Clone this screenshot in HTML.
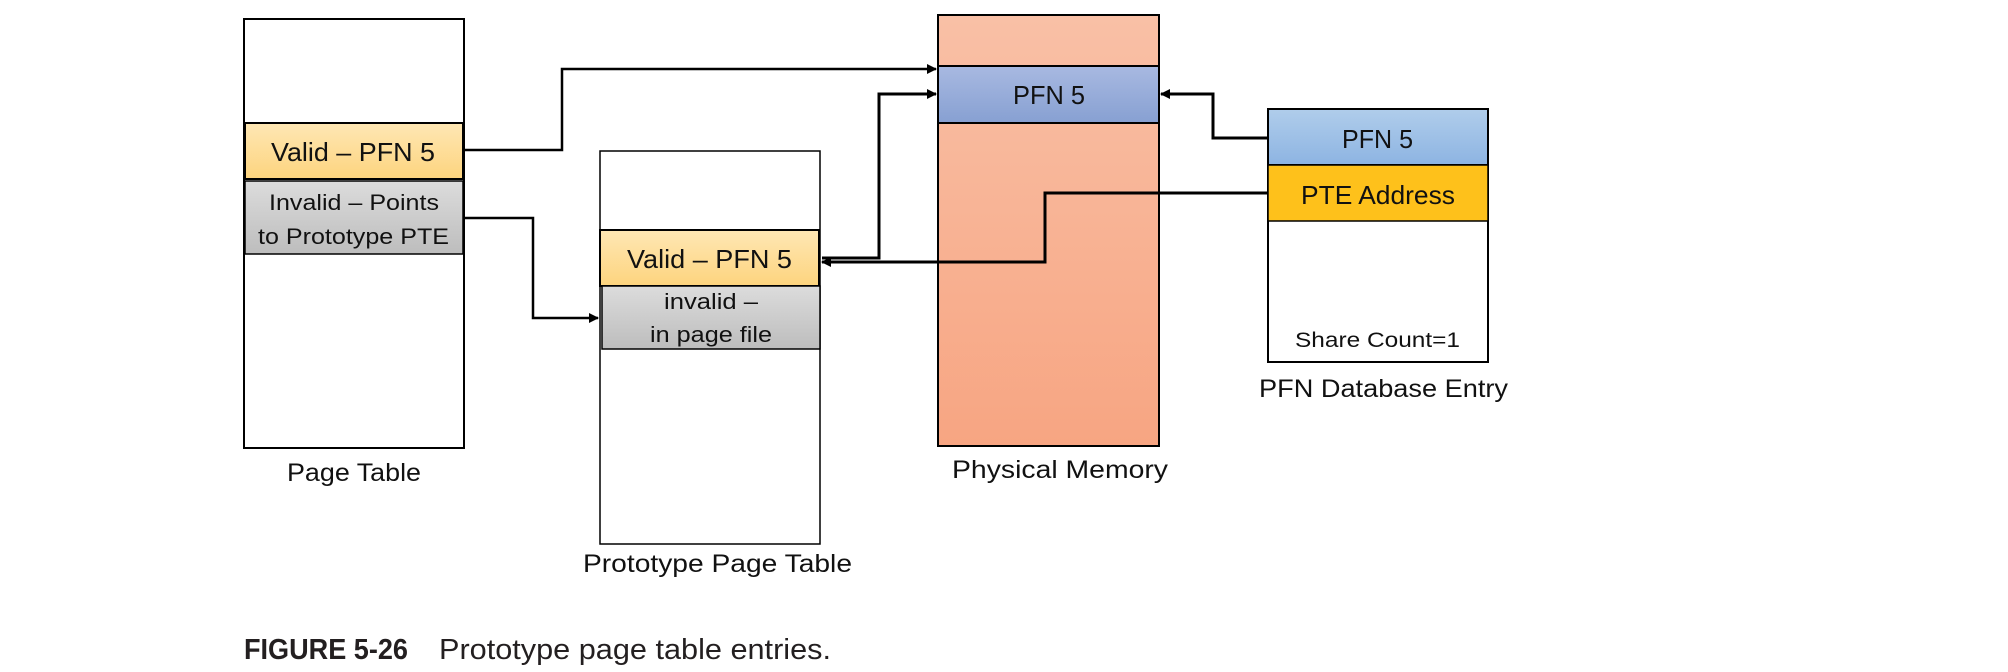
<!DOCTYPE html>
<html><head><meta charset="utf-8"><style>
html,body{margin:0;padding:0;background:#fff;}
svg{display:block;}
text{font-family:"Liberation Sans",sans-serif;fill:#111;}
</style></head><body>
<svg width="2008" height="672" viewBox="0 0 2008 672" xmlns="http://www.w3.org/2000/svg">
<defs>
<linearGradient id="yel" x1="0" y1="0" x2="0" y2="1"><stop offset="0" stop-color="#fee7b4"/><stop offset="1" stop-color="#fdd47e"/></linearGradient>
<linearGradient id="gry" x1="0" y1="0" x2="0" y2="1"><stop offset="0" stop-color="#dcdcdc"/><stop offset="1" stop-color="#bdbdbd"/></linearGradient>
<linearGradient id="sal" x1="0" y1="0" x2="0" y2="1"><stop offset="0" stop-color="#f9c0a6"/><stop offset="1" stop-color="#f7a582"/></linearGradient>
<linearGradient id="blu" x1="0" y1="0" x2="0" y2="1"><stop offset="0" stop-color="#a8b9e1"/><stop offset="1" stop-color="#87a0d2"/></linearGradient>
<linearGradient id="blu2" x1="0" y1="0" x2="0" y2="1"><stop offset="0" stop-color="#b0cdeb"/><stop offset="1" stop-color="#8db4e2"/></linearGradient>
<marker id="ar" markerWidth="10" markerHeight="10" refX="9" refY="5" orient="auto" markerUnits="userSpaceOnUse"><path d="M0,0 L10,5 L0,10 z" fill="#000"/></marker>
</defs>

<!-- Page Table -->
<rect x="244" y="19" width="220" height="429" fill="#fff" stroke="#000" stroke-width="2"/>
<rect x="245" y="123" width="218" height="56" fill="url(#yel)" stroke="#000" stroke-width="2"/>
<rect x="245" y="181" width="218" height="73" fill="url(#gry)" stroke="#000" stroke-width="1.5"/>
<text x="271" y="161" font-size="26" textLength="164" lengthAdjust="spacingAndGlyphs">Valid – PFN 5</text>
<text x="269" y="210" font-size="22" textLength="170" lengthAdjust="spacingAndGlyphs">Invalid – Points</text>
<text x="258" y="244" font-size="22" textLength="191" lengthAdjust="spacingAndGlyphs">to Prototype PTE</text>
<text x="287" y="481" font-size="25" textLength="134" lengthAdjust="spacingAndGlyphs">Page Table</text>

<!-- Prototype Page Table -->
<rect x="600" y="151" width="220" height="393" fill="#fff" stroke="#000" stroke-width="1.5"/>
<rect x="600" y="230" width="219" height="56" fill="url(#yel)" stroke="#000" stroke-width="2"/>
<rect x="602" y="286" width="218" height="63" fill="url(#gry)" stroke="#000" stroke-width="1.5"/>
<text x="627" y="268" font-size="26" textLength="165" lengthAdjust="spacingAndGlyphs">Valid – PFN 5</text>
<text x="664" y="309" font-size="22" textLength="94" lengthAdjust="spacingAndGlyphs">invalid –</text>
<text x="650" y="342" font-size="22" textLength="122" lengthAdjust="spacingAndGlyphs">in page file</text>
<text x="583" y="572" font-size="25" textLength="269" lengthAdjust="spacingAndGlyphs">Prototype Page Table</text>

<!-- Physical Memory -->
<rect x="938" y="15" width="221" height="431" fill="url(#sal)" stroke="#000" stroke-width="2"/>
<rect x="938" y="66" width="221" height="57" fill="url(#blu)" stroke="#000" stroke-width="2"/>
<text x="1013" y="104" font-size="26" textLength="72" lengthAdjust="spacingAndGlyphs">PFN 5</text>
<text x="952" y="478" font-size="25" textLength="216" lengthAdjust="spacingAndGlyphs">Physical Memory</text>

<!-- PFN DB -->
<rect x="1268" y="109" width="220" height="253" fill="#fff" stroke="#000" stroke-width="2"/>
<rect x="1268" y="109" width="220" height="56" fill="url(#blu2)" stroke="#000" stroke-width="2"/>
<rect x="1268" y="165" width="220" height="56" fill="#fec11b" stroke="#000" stroke-width="1.5"/>
<text x="1342" y="148" font-size="26" textLength="71" lengthAdjust="spacingAndGlyphs">PFN 5</text>
<text x="1301" y="204" font-size="26" textLength="154" lengthAdjust="spacingAndGlyphs">PTE Address</text>
<text x="1295" y="347" font-size="21" textLength="165" lengthAdjust="spacingAndGlyphs">Share Count=1</text>
<text x="1259" y="397" font-size="25" textLength="249" lengthAdjust="spacingAndGlyphs">PFN Database Entry</text>

<!-- Connectors -->
<g fill="none" stroke="#000" stroke-width="3">
<polyline points="464,150 562,150 562,69 936,69" marker-end="url(#ar)" stroke-width="2.5"/>
<polyline points="464,218 533,218 533,318 598,318" marker-end="url(#ar)" stroke-width="2.5"/>
<polyline points="822,258 879,258 879,94 936,94" marker-end="url(#ar)"/>
<polyline points="1268,138 1213,138 1213,94 1161,94" marker-end="url(#ar)"/>
<polyline points="1268,193 1045,193 1045,262 822,262" marker-end="url(#ar)"/>
</g>

<!-- Caption -->
<text x="244" y="659" font-size="29" font-weight="bold" style="fill:#231f20" textLength="164" lengthAdjust="spacingAndGlyphs">FIGURE 5-26</text>
<text x="439" y="659" font-size="29" style="fill:#231f20" textLength="392" lengthAdjust="spacingAndGlyphs">Prototype page table entries.</text>
</svg>
</body></html>
